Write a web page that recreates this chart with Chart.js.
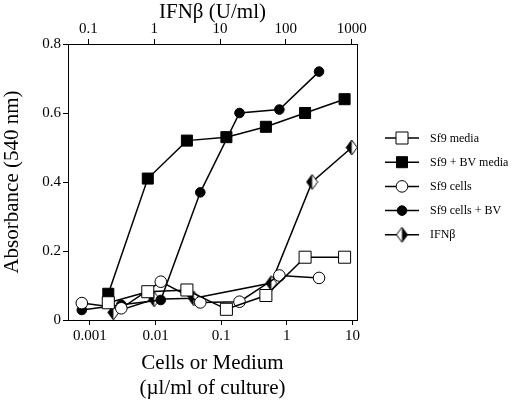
<!DOCTYPE html>
<html>
<head>
<meta charset="utf-8">
<script src="https://cdn.jsdelivr.net/npm/chart.js@4/dist/chart.umd.min.js"></script>
<style>
  html, body { margin: 0; padding: 0; background: #fff; }
  #wrap { width: 514px; height: 403px; position: relative; }
</style>
</head>
<body>
<div id="wrap"><canvas id="chart"></canvas></div>
<script>
// values
var mediaX   = [0.0019, 0.0076, 0.03, 0.12, 0.48, 1.9, 7.6];
var sf9Media = [0.05, 0.082, 0.087, 0.031, 0.071, 0.182, 0.182];
var bvMedia  = [0.076, 0.41, 0.52, 0.53, 0.56, 0.60, 0.64];

var cellsX   = [0.00075, 0.003, 0.012, 0.048, 0.19, 0.77, 3.1];
var sf9Cells = [0.049, 0.034, 0.111, 0.051, 0.053, 0.129, 0.122];
var bvCells  = [0.029, 0.044, 0.058, 0.37, 0.60, 0.61, 0.72];

var ifnX = [0.24, 1, 4, 60, 250, 1000];
var ifnY = [0.022, 0.06, 0.063, 0.107, 0.40, 0.50];

var bottomTicks = [0.001, 0.01, 0.1, 1, 10];
var topTicks = [0.1, 1, 10, 100, 1000];
var yTicks = [0, 0.2, 0.4, 0.6, 0.8];

var labels = ['Sf9 media', 'Sf9 + BV media', 'Sf9 cells', 'Sf9 cells + BV', 'IFN\u03b2'];

function pts(xs, ys) {
    return xs.map(function(x, i) { return { x: x, y: ys[i] }; });
}

// half filled diamond marker
function diamond(leftBlack) {
    var c = document.createElement('canvas');
    c.width = 13; c.height = 17;
    var g = c.getContext('2d');
    var cx = 6.5, cy = 8.5, w = 5.5, h = 7.5;
    g.beginPath();
    g.moveTo(cx, cy - h); g.lineTo(cx + w, cy); g.lineTo(cx, cy + h); g.lineTo(cx - w, cy); g.closePath();
    g.fillStyle = '#fff'; g.fill();
    g.beginPath();
    if (leftBlack) {
        g.moveTo(cx, cy - h); g.lineTo(cx - w, cy); g.lineTo(cx, cy + h);
    } else {
        g.moveTo(cx, cy - h); g.lineTo(cx + w, cy); g.lineTo(cx, cy + h);
    }
    g.closePath();
    g.fillStyle = '#000'; g.fill();
    g.beginPath();
    g.moveTo(cx, cy - h); g.lineTo(cx + w, cy); g.lineTo(cx, cy + h); g.lineTo(cx - w, cy); g.closePath();
    g.lineWidth = 1; g.strokeStyle = '#000'; g.stroke();
    return c;
}
var diamondData = diamond(true);
var diamondLegend = diamond(false);

var serif = 'Liberation Serif, Times New Roman, serif';

function ds(label, data, style, radius, fill, xAxis) {
    return {
        label: label,
        data: data,
        xAxisID: xAxis || 'x',
        showLine: true,
        borderColor: '#000',
        borderWidth: 1.5,
        tension: 0,
        pointStyle: style,
        pointRadius: radius,
        pointHoverRadius: radius,
        pointBackgroundColor: fill,
        pointBorderColor: '#000',
        pointBorderWidth: 1
    };
}

var datasets = [
    ds(labels[0], pts(mediaX, sf9Media), 'rect', 8.5, '#fff'),
    ds(labels[1], pts(mediaX, bvMedia), 'rect', 7.8, '#000'),
    ds(labels[2], pts(cellsX, sf9Cells), 'circle', 5.8, '#fff'),
    ds(labels[3], pts(cellsX, bvCells), 'circle', 4.8, '#000'),
    ds(labels[4], pts(ifnX, ifnY), diamondData, 6, '#000', 'x2')
];

var legendPlugin = {
    id: 'sideLegend',
    afterDraw: function(chart) {
        var ctx = chart.ctx;
        var area = chart.chartArea;
        ctx.save();
        // right frame line
        ctx.strokeStyle = '#000';
        ctx.lineWidth = 1;
        ctx.beginPath();
        ctx.moveTo(area.right + 0.5, area.top);
        ctx.lineTo(area.right + 0.5, area.bottom);
        ctx.stroke();

        var y0 = 138, step = 24.2;
        chart.data.datasets.forEach(function(d, i) {
            var y = y0 + i * step;
            ctx.strokeStyle = '#000';
            ctx.lineWidth = 1.5;
            ctx.beginPath();
            ctx.moveTo(385, y);
            ctx.lineTo(419, y);
            ctx.stroke();
            ctx.fillStyle = d.pointBackgroundColor;
            ctx.strokeStyle = '#000';
            ctx.lineWidth = 1;
            var style = i === 4 ? diamondLegend : d.pointStyle;
            Chart.helpers.drawPoint(ctx, { pointStyle: style, radius: d.pointRadius, rotation: 0, borderWidth: 1 }, 402, y);
            ctx.fillStyle = '#000';
            ctx.font = '12px ' + serif;
            ctx.textBaseline = 'middle';
            ctx.textAlign = 'left';
            ctx.fillText(d.label, 430, y + 0.5);
        });
        ctx.restore();
    }
};

var ctx = document.getElementById('chart').getContext('2d');
new Chart(ctx, {
    type: 'scatter',
    data: { datasets: datasets },
    plugins: [legendPlugin],
    options: {
        responsive: true,
        maintainAspectRatio: false,
        animation: false,
        layout: { padding: { left: 0, right: 157, top: 0, bottom: 0 } },
        plugins: {
            legend: { display: false },
            tooltip: { enabled: false }
        },
        scales: {
            x: {
                type: 'logarithmic',
                position: 'bottom',
                min: 0.000462,
                max: 11.75,
                afterBuildTicks: function(s) { s.ticks = bottomTicks.map(function(v) { return { value: v }; }); },
                afterFit: function(s) { s.height = 83; },
                ticks: {
                    color: '#000',
                    font: { family: serif, size: 15 },
                    padding: 2,
                    maxRotation: 0,
                    autoSkip: false,
                    callback: function(v) { return String(v); }
                },
                grid: { display: true, drawOnChartArea: false, drawTicks: true, tickLength: 5, color: '#000' },
                border: { display: true, color: '#000', width: 1 },
                title: {
                    display: true,
                    text: ['Cells or Medium', '(\u00b5l/ml of culture)'],
                    color: '#000',
                    font: { family: serif, size: 21, lineHeight: '25px' },
                    padding: { top: 0, bottom: 2.5 }
                }
            },
            x2: {
                type: 'logarithmic',
                position: 'top',
                min: 0.0492,
                max: 1202,
                afterBuildTicks: function(s) { s.ticks = topTicks.map(function(v) { return { value: v }; }); },
                afterFit: function(s) { s.height = 44; },
                ticks: {
                    color: '#000',
                    font: { family: serif, size: 15 },
                    padding: 1,
                    maxRotation: 0,
                    autoSkip: false,
                    callback: function(v) { return String(v); }
                },
                grid: { display: true, drawOnChartArea: false, drawTicks: true, tickLength: 5, color: '#000' },
                border: { display: true, color: '#000', width: 1 },
                title: {
                    display: true,
                    text: 'IFN\u03b2 (U/ml)',
                    color: '#000',
                    font: { family: serif, size: 21, lineHeight: '25px' },
                    padding: 0
                }
            },
            y: {
                type: 'linear',
                min: 0,
                max: 0.8,
                afterBuildTicks: function(s) { s.ticks = yTicks.map(function(v) { return { value: v }; }); },
                afterFit: function(s) { s.width = 68; },
                ticks: {
                    color: '#000',
                    font: { family: serif, size: 15 },
                    padding: 2,
                    callback: function(v) { return String(Math.round(v * 10) / 10); }
                },
                grid: { display: true, drawOnChartArea: false, drawTicks: true, tickLength: 5, color: '#000' },
                border: { display: true, color: '#000', width: 1 },
                title: {
                    display: true,
                    text: 'Absorbance (540 nm)',
                    color: '#000',
                    font: { family: serif, size: 21, lineHeight: '25px' },
                    padding: 0
                }
            }
        }
    }
});
</script>
</body>
</html>
